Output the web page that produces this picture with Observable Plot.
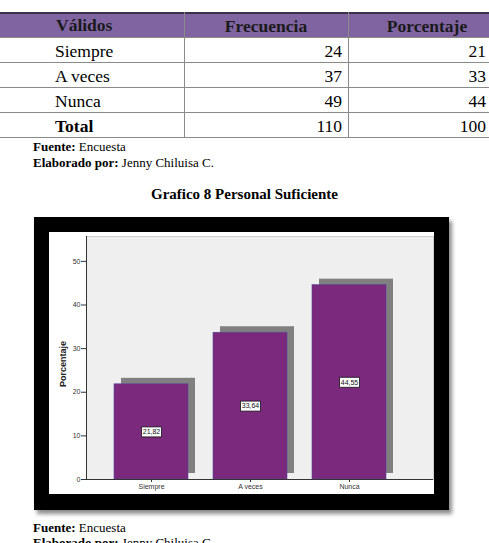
<!DOCTYPE html>
<html><head><meta charset="utf-8">
<script src="https://cdn.jsdelivr.net/npm/d3@7"></script>
<script src="https://cdn.jsdelivr.net/npm/@observablehq/plot@0.6"></script>
<style>
body{margin:0;background:#fff;}
#page{position:relative;width:489px;height:543px;overflow:hidden;font-family:"Liberation Serif","Times New Roman",serif;color:#000;background:#fff;}
.cell{position:absolute;height:25px;line-height:25px;font-size:17.5px;white-space:nowrap;box-sizing:border-box;}
.hline{position:absolute;left:0;width:489px;height:1px;background:#8a8a8a;}
.vline{position:absolute;width:1px;background:#8a8a8a;}
.note{position:absolute;left:33px;font-size:13px;white-space:nowrap;}
#title{position:absolute;left:0;width:489px;text-align:center;top:186px;font-size:15px;font-weight:bold;}
#frame{position:absolute;left:34px;top:217px;width:415px;height:293px;background:#000;box-shadow:3px 4px 4px rgba(0,0,0,0.45);}
#chart{position:absolute;left:15px;top:15px;}
</style>
</head><body>
<div id="page">
  <div id="table"></div>
  <div class="note" style="top:139px"><b>Fuente:</b> Encuesta</div>
  <div class="note" style="top:155px"><b>Elaborado por:</b> Jenny Chiluisa C.</div>
  <div id="title">Grafico 8 Personal Suficiente</div>
  <div id="frame"><div id="chart"></div></div>
  <div class="note" style="top:520px"><b>Fuente:</b> Encuesta</div>
  <div class="note" style="top:535px"><b>Elaborado por:</b> Jenny Chiluisa C.</div>
</div>
<script>
// ---- data ----
const encabezados = ["Válidos", "Frecuencia", "Porcentaje"];
const validos = ["Siempre", "A veces", "Nunca"];
const frecuencia = [24, 37, 49];
const porcentajeTabla = [21, 33, 44];
const totalEtiqueta = "Total";
const totalFrecuencia = 110;
const totalPorcentaje = 100;
const porcentajeGrafico = [21.82, 33.64, 44.55];
const yTicks = [0, 10, 20, 30, 40, 50];
const yLabel = "Porcentaje";

// ---- table ----
const tbl = document.getElementById("table");
const top0 = 12, rowH = 25;
function cell(txt, left, width, top, align, extra) {
  const d = document.createElement("div");
  d.className = "cell";
  d.textContent = txt;
  d.style.left = left + "px";
  d.style.width = width + "px";
  d.style.top = top + "px";
  d.style.textAlign = align;
  Object.assign(d.style, extra || {});
  tbl.appendChild(d);
}
const hb = document.createElement("div");
Object.assign(hb.style, {position:"absolute", left:"0px", top: top0 + "px", width:"489px", height: rowH + "px", background:"#8064a2", borderTop:"2px solid #3b3048", boxSizing:"border-box"});
tbl.appendChild(hb);
cell(encabezados[0], 56, 128, top0 + 1, "left", {fontWeight:"bold", color:"#1a1a1a"});
cell(encabezados[1], 184, 164, top0 + 2, "center", {fontWeight:"bold", color:"#1a1a1a"});
cell(encabezados[2], 348, 158, top0 + 2, "center", {fontWeight:"bold", color:"#1a1a1a"});
const rows = validos.map((v, i) => [v, frecuencia[i], porcentajeTabla[i], false]);
rows.push([totalEtiqueta, totalFrecuencia, totalPorcentaje, true]);
rows.forEach((r, i) => {
  const t = top0 + rowH * (i + 1) + 2;
  const bold = r[3] ? {fontWeight:"bold"} : {};
  cell(r[0], 55, 128, t, "left", bold);
  cell(String(r[1]), 184, 158, t, "right");
  cell(String(r[2]), 348, 138, t, "right");
});
for (let i = 1; i <= rows.length + 1; i++) {
  const l = document.createElement("div");
  l.className = "hline";
  l.style.top = (top0 + rowH * i) + "px";
  tbl.appendChild(l);
}
[184, 348].forEach(x => {
  const l = document.createElement("div");
  l.className = "vline";
  l.style.left = x + "px";
  l.style.top = top0 + "px";
  l.style.height = (rowH * (rows.length + 1)) + "px";
  tbl.appendChild(l);
});

// ---- chart ----
const data = validos.map((c, i) => ({c, v: porcentajeGrafico[i]}));
const boxSymbol = {draw(ctx) { ctx.moveTo(-10, -5); ctx.lineTo(10, -5); ctx.lineTo(10, 5); ctx.lineTo(-10, 5); ctx.closePath(); }};
const fmt = v => v.toFixed(2).replace(".", ",");
const chart = Plot.plot({
  width: 385, height: 262,
  marginLeft: 37, marginRight: 1, marginTop: 4, marginBottom: 15,
  style: {background: "#fff", fontFamily: "'Liberation Sans', Arial, sans-serif", color: "#333", overflow: "visible"},
  x: {domain: validos, range: [40, 363], padding: 0.25, label: null},
  y: {domain: [0, 55.7], label: null},
  marks: [
    Plot.frame({fill: "#efefef", stroke: "#cfcfcf"}),
    Plot.barY(data, {x: "c", y: "v", fill: "#808080", dx: 7, dy: -6}),
    Plot.barY(data, {x: "c", y: "v", fill: "#7a297d", stroke: "#55489a", strokeWidth: 0.6}),
    Plot.ruleY([0], {stroke: "#333"}),
    Plot.frame({anchor: "left", stroke: "#333"}),
    Plot.dot(data, {x: "c", y: d => d.v / 2, symbol: boxSymbol, fill: "#fff", stroke: "#111", strokeWidth: 0.8}),
    Plot.text(data, {x: "c", y: d => d.v / 2, text: d => fmt(d.v), fontSize: 7, fill: "#111"}),
    Plot.axisY({ticks: yTicks, tickSize: 5, tickPadding: 1, fontSize: 7, label: null}),
    Plot.axisX({tickSize: 3, tickPadding: 2, fontSize: 7, label: null}),
    Plot.text([yLabel], {frameAnchor: "left", textAnchor: "middle", rotate: -90, dx: -23, dy: 6, fontWeight: "bold", fontSize: 9, fill: "#222", text: d => d})
  ]
});
document.getElementById("chart").appendChild(chart);
</script>
</body></html>
